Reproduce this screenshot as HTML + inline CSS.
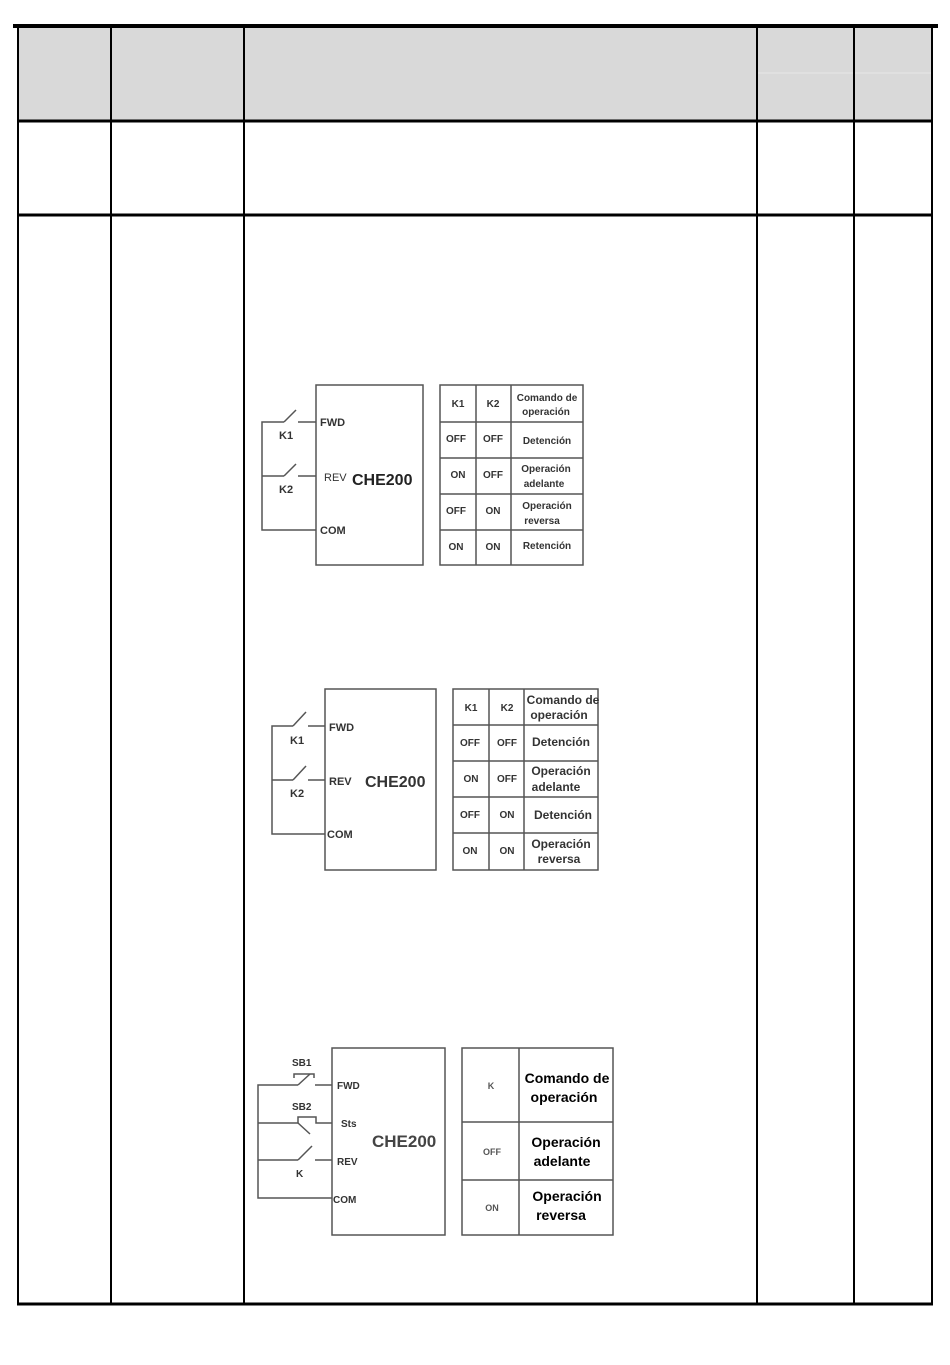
<!DOCTYPE html>
<html><head><meta charset="utf-8"><style>
html,body{margin:0;padding:0;background:#fff;}
svg{display:block}
text{font-family:"Liberation Sans",sans-serif;}
</style></head><body>
<svg width="950" height="1365" viewBox="0 0 950 1365" xmlns="http://www.w3.org/2000/svg">
<rect x="18" y="27" width="914" height="94" fill="#d9d9d9"/>
<line x1="758" y1="73" x2="931" y2="73" stroke="#e6e6e6" stroke-width="1"/>
<line x1="13" y1="26" x2="938" y2="26" stroke="#000" stroke-width="4"/>
<g stroke="#000" stroke-width="2" fill="none">
<line x1="18" y1="27" x2="18" y2="1304"/>
<line x1="111" y1="27" x2="111" y2="1304"/>
<line x1="244" y1="27" x2="244" y2="1304"/>
<line x1="757" y1="27" x2="757" y2="1304"/>
<line x1="854" y1="27" x2="854" y2="1304"/>
<line x1="932" y1="27" x2="932" y2="1304"/>
<line x1="18" y1="121" x2="932" y2="121" stroke-width="3"/>
<line x1="18" y1="215" x2="932" y2="215" stroke-width="3"/>
<line x1="17" y1="1304" x2="933" y2="1304" stroke-width="3"/>
</g>

<!-- Diagram 1 -->
<g stroke="#555" stroke-width="1.5" fill="none">
<rect x="316" y="385" width="107" height="180"/>
<polyline points="284,422 262,422 262,530 316,530"/>
<line x1="298" y1="422" x2="316" y2="422"/>
<line x1="284" y1="422" x2="296" y2="410"/>
<polyline points="284,476 262,476"/>
<line x1="298" y1="476" x2="316" y2="476"/>
<line x1="284" y1="476" x2="296" y2="464"/>
<rect x="440" y="385" width="143" height="180"/>
<line x1="476" y1="385" x2="476" y2="565"/><line x1="511" y1="385" x2="511" y2="565"/>
<line x1="440" y1="422" x2="583" y2="422"/><line x1="440" y1="458" x2="583" y2="458"/>
<line x1="440" y1="494" x2="583" y2="494"/><line x1="440" y1="530" x2="583" y2="530"/>
</g>
<g font-size="11" fill="#333" font-weight="bold">
<text x="320" y="426">FWD</text><text x="324" y="481" font-weight="normal">REV</text><text x="320" y="534">COM</text>
<text x="279" y="439">K1</text><text x="279" y="493">K2</text>
<text x="352" y="485" font-size="16" fill="#222">CHE200</text>
</g>
<g font-size="10" fill="#333" text-anchor="middle" font-weight="bold">
<text x="458" y="407">K1</text><text x="493" y="407">K2</text>
<text x="547" y="401">Comando de</text><text x="546" y="415">operación</text>
<text x="456" y="442">OFF</text><text x="493" y="442">OFF</text><text x="547" y="444">Detención</text>
<text x="458" y="478">ON</text><text x="493" y="478">OFF</text><text x="546" y="472">Operación</text><text x="544" y="487">adelante</text>
<text x="456" y="514">OFF</text><text x="493" y="514">ON</text><text x="547" y="509">Operación</text><text x="542" y="524">reversa</text>
<text x="456" y="550">ON</text><text x="493" y="550">ON</text><text x="547" y="549">Retención</text>
</g>

<!-- Diagram 2 -->
<g stroke="#555" stroke-width="1.5" fill="none">
<rect x="325" y="689" width="111" height="181"/>
<polyline points="293,726 272,726 272,834 325,834"/>
<line x1="308" y1="726" x2="325" y2="726"/>
<line x1="293" y1="726" x2="306" y2="712"/>
<polyline points="293,780 272,780"/>
<line x1="308" y1="780" x2="325" y2="780"/>
<line x1="293" y1="780" x2="306" y2="766"/>
<rect x="453" y="689" width="145" height="181"/>
<line x1="489" y1="689" x2="489" y2="870"/><line x1="524" y1="689" x2="524" y2="870"/>
<line x1="453" y1="725" x2="598" y2="725"/><line x1="453" y1="761" x2="598" y2="761"/>
<line x1="453" y1="797" x2="598" y2="797"/><line x1="453" y1="833" x2="598" y2="833"/>
</g>
<g font-size="11" fill="#333" font-weight="bold">
<text x="329" y="731">FWD</text><text x="329" y="785">REV</text><text x="327" y="838">COM</text>
<text x="290" y="744">K1</text><text x="290" y="797">K2</text>
<text x="365" y="787" font-size="16" fill="#333">CHE200</text>
</g>
<g font-size="10" fill="#333" text-anchor="middle" font-weight="bold">
<text x="471" y="711">K1</text><text x="507" y="711">K2</text>
<text x="563" y="704" font-size="12">Comando de</text><text x="559" y="719" font-size="12">operación</text>
<text x="470" y="746">OFF</text><text x="507" y="746">OFF</text><text x="561" y="746" font-size="12">Detención</text>
<text x="471" y="782">ON</text><text x="507" y="782">OFF</text><text x="561" y="775" font-size="12">Operación</text><text x="556" y="791" font-size="12">adelante</text>
<text x="470" y="818">OFF</text><text x="507" y="818">ON</text><text x="563" y="819" font-size="12">Detención</text>
<text x="470" y="854">ON</text><text x="507" y="854">ON</text><text x="561" y="848" font-size="12">Operación</text><text x="559" y="863" font-size="12">reversa</text>
</g>

<!-- Diagram 3 -->
<g stroke="#555" stroke-width="1.5" fill="none">
<rect x="332" y="1048" width="113" height="187"/>
<polyline points="298,1085 258,1085 258,1198 332,1198"/>
<line x1="315" y1="1085" x2="332" y2="1085"/>
<line x1="298" y1="1085" x2="310" y2="1074"/>
<polyline points="294,1078 294,1074 314,1074 314,1078"/>
<polyline points="258,1123 298,1123 298,1117 316,1117 316,1123 332,1123"/>
<line x1="298" y1="1123" x2="310" y2="1134"/>
<line x1="258" y1="1160" x2="298" y2="1160"/>
<line x1="315" y1="1160" x2="332" y2="1160"/>
<line x1="298" y1="1160" x2="312" y2="1146"/>
<rect x="462" y="1048" width="151" height="187"/>
<line x1="519" y1="1048" x2="519" y2="1235"/>
<line x1="462" y1="1122" x2="613" y2="1122"/><line x1="462" y1="1180" x2="613" y2="1180"/>
</g>
<g font-size="10" fill="#333" font-weight="bold">
<text x="292" y="1066">SB1</text><text x="292" y="1110">SB2</text>
<text x="337" y="1089">FWD</text><text x="341" y="1127">Sts</text><text x="337" y="1165">REV</text><text x="333" y="1203">COM</text>
<text x="296" y="1177">K</text>
<text x="372" y="1147" font-size="17" fill="#444">CHE200</text>
</g>
<g fill="#000" text-anchor="middle" font-weight="bold">
<text x="491" y="1089" font-size="9" fill="#555">K</text>
<text x="567" y="1083" font-size="14">Comando de</text><text x="564" y="1102" font-size="14">operación</text>
<text x="492" y="1155" font-size="9" fill="#555">OFF</text>
<text x="566" y="1147" font-size="14">Operación</text><text x="562" y="1166" font-size="14">adelante</text>
<text x="492" y="1211" font-size="9" fill="#555">ON</text>
<text x="567" y="1201" font-size="14">Operación</text><text x="561" y="1220" font-size="14">reversa</text>
</g>
</svg>
</body></html>
